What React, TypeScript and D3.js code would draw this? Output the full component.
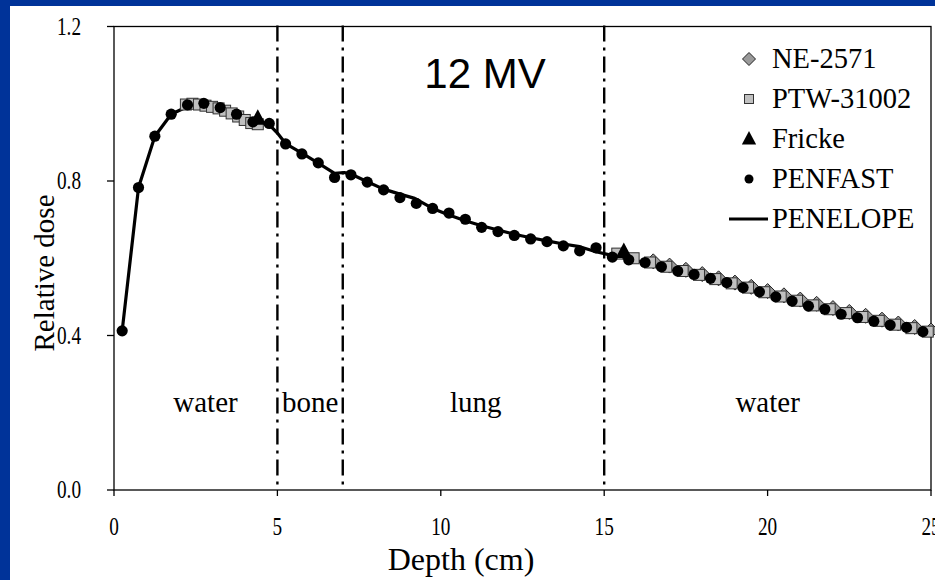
import React from 'react';
import * as d3 from 'd3';

// ---------- data ----------
const penfastX = [0.25, 0.75, 1.25, 1.75, 2.25, 2.75, 3.25, 3.75, 4.25, 4.75, 5.25, 5.75, 6.25, 6.75, 7.25, 7.75, 8.25, 8.75, 9.25, 9.75, 10.25, 10.75, 11.25, 11.75, 12.25, 12.75, 13.25, 13.75, 14.25, 14.75, 15.25, 15.75, 16.25, 16.75, 17.25, 17.75, 18.25, 18.75, 19.25, 19.75, 20.25, 20.75, 21.25, 21.75, 22.25, 22.75, 23.25, 23.75, 24.25, 24.75];
const penfastY = [0.412, 0.783, 0.916, 0.973, 0.997, 1.001, 0.99, 0.973, 0.953, 0.949, 0.896, 0.87, 0.847, 0.809, 0.816, 0.797, 0.777, 0.757, 0.742, 0.729, 0.717, 0.701, 0.68, 0.669, 0.659, 0.65, 0.643, 0.632, 0.619, 0.627, 0.603, 0.596, 0.589, 0.578, 0.567, 0.558, 0.548, 0.537, 0.524, 0.513, 0.5, 0.489, 0.476, 0.468, 0.455, 0.446, 0.437, 0.427, 0.421, 0.41];

const penelopeX = [0.25, 0.75, 1.25, 1.75, 2.25, 2.75, 3.25, 3.75, 4.25, 4.75, 5.0, 5.25, 5.75, 6.25, 6.75, 7.05, 7.25, 7.75, 8.25, 8.75, 9.2, 9.75, 10.25, 10.75, 11.25, 11.75, 12.25, 12.75, 13.25, 13.75, 14.25, 14.75, 15.2, 15.75, 16.25, 17.0, 18.0, 19.0, 20.0, 21.0, 22.0, 23.0, 24.0, 25.0];
const penelopeY = [0.412, 0.783, 0.916, 0.973, 0.993, 0.998, 0.988, 0.972, 0.955, 0.946, 0.924, 0.897, 0.872, 0.846, 0.82, 0.822, 0.818, 0.798, 0.779, 0.766, 0.755, 0.729, 0.712, 0.697, 0.684, 0.673, 0.662, 0.653, 0.645, 0.637, 0.63, 0.617, 0.608, 0.598, 0.589, 0.573, 0.552, 0.531, 0.508, 0.485, 0.463, 0.443, 0.424, 0.405];

const ptwX = [2.2, 2.4, 2.6, 2.8, 3.0, 3.2, 3.4, 3.6, 3.8, 4.0, 4.2, 4.4, 15.4, 15.9, 16.4, 16.9, 17.4, 17.9, 18.4, 18.9, 19.4, 19.9, 20.4, 20.9, 21.4, 21.9, 22.4, 22.9, 23.4, 23.9, 24.4, 24.9];
const ptwY = [0.998, 1.0, 0.998, 0.995, 0.992, 0.988, 0.982, 0.975, 0.967, 0.958, 0.95, 0.947, 0.612, 0.6, 0.589, 0.578, 0.567, 0.557, 0.546, 0.535, 0.524, 0.512, 0.501, 0.49, 0.478, 0.468, 0.458, 0.448, 0.438, 0.428, 0.419, 0.41];

const neX = [16.5, 17.0, 17.5, 18.0, 18.5, 19.0, 19.5, 20.0, 20.5, 21.0, 21.5, 22.0, 22.5, 23.0, 23.5, 24.0, 24.5, 25.0];
const neY = [0.592, 0.581, 0.57, 0.559, 0.548, 0.537, 0.526, 0.515, 0.504, 0.493, 0.482, 0.471, 0.461, 0.451, 0.441, 0.431, 0.422, 0.413];

const frickeX = [4.4, 15.6];
const frickeY = [0.962, 0.617];

const boundaries = [5, 7, 15];
const regionNames = ['water', 'bone', 'lung', 'water'];
const regionCenters = [2.8, 6.0, 11.07, 20.0];

const xTicks = [0, 5, 10, 15, 20, 25];
const yTicks = [0, 0.4, 0.8, 1.2];

const legendNames = ['NE-2571', 'PTW-31002', 'Fricke', 'PENFAST', 'PENELOPE'];

// ---------- layout ----------
const W = 935;
const H = 580;
const xs = d3.scaleLinear().domain([0, 25]).range([114, 931]);
const ys = d3.scaleLinear().domain([0, 1.2]).range([490, 26.5]);

const serif = '"Liberation Serif", "Times New Roman", serif';
const sans = '"Liberation Sans", Arial, sans-serif';

const diamondPath = (r: number) => `M0,${-r}L${r},0L0,${r}L${-r},0Z`;
const trianglePath = (s: number) => `M0,${-s * 0.62}L${s * 0.55},${s * 0.42}L${-s * 0.55},${s * 0.42}Z`;

export default function App() {
  const line = d3
    .line<number>()
    .x((_, i) => xs(penelopeX[i]))
    .y((d) => ys(d));
  const x0 = xs(0), x1 = xs(25), y0 = ys(0), y1 = ys(1.2);

  const legendX = 749;
  const legendTextX = 772;
  const legendBase = [68, 108, 148, 188, 228];

  return (
    <svg
      width={W}
      height={H}
      style={{ position: 'fixed', left: 0, top: 0, display: 'block' }}
      xmlns="http://www.w3.org/2000/svg"
    >
      <rect x={0} y={0} width={W} height={H} fill="#003399" />
      <rect x={10} y={6} width={W - 10} height={H - 6} fill="#ffffff" />

      {/* plot frame */}
      <rect x={x0} y={y1} width={x1 - x0} height={y0 - y1} fill="none" stroke="#000" strokeWidth={1.3} />

      {/* y ticks */}
      {yTicks.map((t) => (
        <g key={'yt' + t}>
          <line x1={x0 - 7} x2={x0} y1={ys(t)} y2={ys(t)} stroke="#000" strokeWidth={1.3} />
          <g transform={`translate(${x0 - 33},${ys(t) + 8}) scale(0.74,1)`}>
            <text textAnchor="end" fontFamily={serif} fontSize={26} fill="#000">
              {t.toFixed(1)}
            </text>
          </g>
        </g>
      ))}
      {/* x ticks */}
      {xTicks.map((t) => (
        <g key={'xt' + t}>
          <line x1={xs(t)} x2={xs(t)} y1={y0} y2={y0 + 6} stroke="#000" strokeWidth={1.3} />
          <g transform={`translate(${xs(t)},${y0 + 45}) scale(0.74,1)`}>
            <text textAnchor="middle" fontFamily={serif} fontSize={26} fill="#000">
              {t}
            </text>
          </g>
        </g>
      ))}

      {/* axis titles */}
      <text x={461} y={570} textAnchor="middle" fontFamily={serif} fontSize={32} fill="#000">
        Depth (cm)
      </text>
      <text
        transform={`translate(54,273) rotate(-90)`}
        textAnchor="middle"
        fontFamily={serif}
        fontSize={29}
        fill="#000"
      >
        Relative dose
      </text>

      {/* boundaries */}
      {boundaries.map((b) => (
        <line
          key={'b' + b}
          x1={xs(b)}
          x2={xs(b)}
          y1={y1 - 1}
          y2={y0}
          stroke="#000"
          strokeWidth={2.4}
          strokeDasharray="16,6,3,6"
        />
      ))}

      {/* region labels */}
      {regionNames.map((n, i) => (
        <text key={'r' + i} x={xs(regionCenters[i])} y={412} textAnchor="middle" fontFamily={serif} fontSize={29} fill="#000">
          {n}
        </text>
      ))}

      <text x={485} y={88} textAnchor="middle" fontFamily={sans} fontSize={42} fill="#000">
        12 MV
      </text>

      {/* PENELOPE line */}
      <path d={line(penelopeY) || ''} fill="none" stroke="#000" strokeWidth={3.2} strokeLinejoin="round" />

      {/* NE-2571 diamonds */}
      {neX.map((v, i) => (
        <path
          key={'ne' + i}
          d={diamondPath(7.5)}
          transform={`translate(${xs(v)},${ys(neY[i])})`}
          fill="#9a9a9a"
          stroke="#222"
          strokeWidth={1}
        />
      ))}
      {/* PTW squares */}
      {ptwX.map((v, i) => (
        <rect
          key={'ptw' + i}
          x={xs(v) - 5.5}
          y={ys(ptwY[i]) - 5.5}
          width={11}
          height={11}
          fill="#c0c0c0"
          stroke="#333"
          strokeWidth={1}
        />
      ))}
      {/* Fricke triangles */}
      {frickeX.map((v, i) => (
        <path key={'fr' + i} d={trianglePath(15)} transform={`translate(${xs(v)},${ys(frickeY[i])})`} fill="#000" />
      ))}
      {/* PENFAST circles */}
      {penfastX.map((v, i) => (
        <circle key={'pf' + i} cx={xs(v)} cy={ys(penfastY[i])} r={5.6} fill="#000" />
      ))}

      {/* legend */}
      <path d={diamondPath(6.5)} transform={`translate(${legendX},${legendBase[0] - 9})`} fill="#9a9a9a" stroke="#222" strokeWidth={1} />
      <rect x={legendX - 4.5} y={legendBase[1] - 9 - 4.5} width={9} height={9} fill="#c0c0c0" stroke="#333" strokeWidth={1} />
      <path d={trianglePath(13)} transform={`translate(${legendX},${legendBase[2] - 9})`} fill="#000" />
      <circle cx={legendX} cy={legendBase[3] - 9} r={4.5} fill="#000" />
      <line x1={729} x2={768} y1={legendBase[4] - 9} y2={legendBase[4] - 9} stroke="#000" strokeWidth={3} />
      {legendNames.map((n, i) => (
        <text key={'lg' + i} x={legendTextX} y={legendBase[i]} fontFamily={serif} fontSize={28.5} fill="#000">
          {n}
        </text>
      ))}
    </svg>
  );
}
